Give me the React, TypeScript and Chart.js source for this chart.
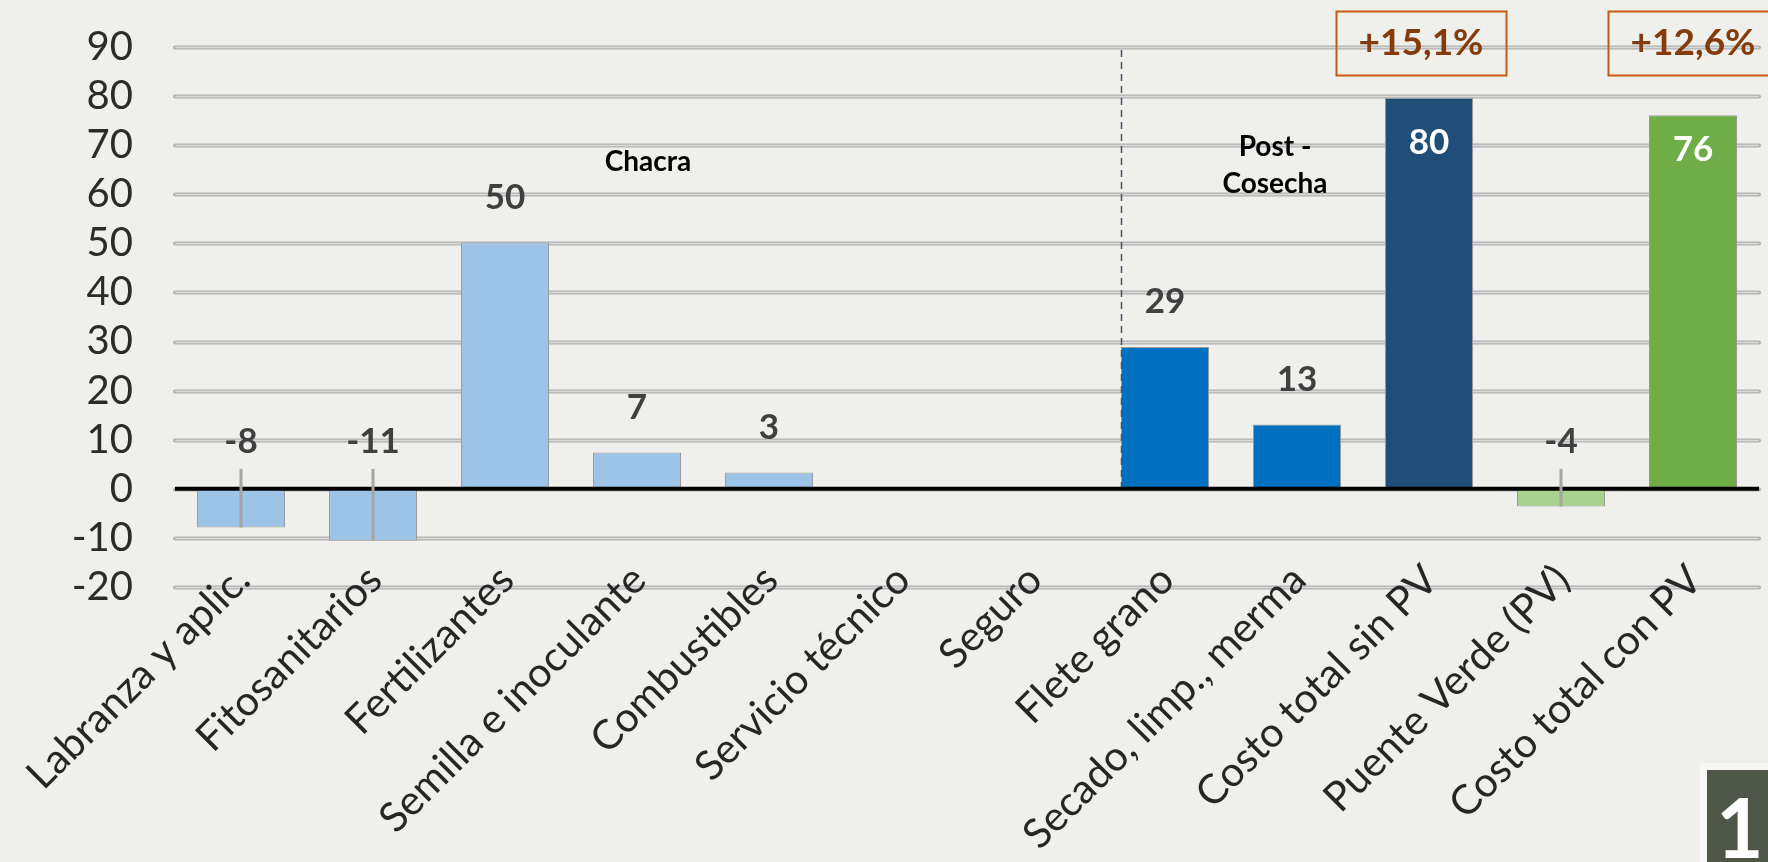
import React, { useEffect, useRef } from 'react';
import { Chart, registerables } from 'chart.js';

Chart.register(...registerables);

const categories = [
  'Labranza y aplic.',
  'Fitosanitarios',
  'Fertilizantes',
  'Semilla e inoculante',
  'Combustibles',
  'Servicio técnico',
  'Seguro',
  'Flete grano',
  'Secado, limp., merma',
  'Costo total sin PV',
  'Puente Verde (PV)',
  'Costo total con PV',
];
const values = [-7.9, -10.6, 50.2, 7.4, 3.3, 0, 0, 28.9, 13.1, 79.6, -3.6, 76.1];
const valueLabels = ['-8', '-11', '50', '7', '3', '', '', '29', '13', '80', '-4', '76'];
const insideLabelIdx = [9, 11];
const insideLabelOffset = [45, 34];
const barColors = [
  '#9DC3E6', '#9DC3E6', '#9DC3E6', '#9DC3E6', '#9DC3E6', '#9DC3E6', '#9DC3E6',
  '#0070C0', '#0070C0', '#1F4E79', '#A9D18E', '#70AD47',
];
const yMin = -20;
const yMax = 90;
const yStep = 10;
const boxTexts = ['+15,1%', '+12,6%'];
const boxCategoryIdx = [9, 11];
const boxOffsets = [-8, 0];
const sectionTexts = ['Chacra', 'Post -', 'Cosecha'];
const sectionCategory = [3, 8, 8];
const sectionValue = [66.5, 69.7, 62.1];
const dividerCategoryIdx = 7;

const BG = '#EFEFEB';
const FONT = 'Lato, "Noto Sans", sans-serif';

const overlayPlugin = {
  id: 'overlay',
  beforeDatasetsDraw(chart: any) {
    const { ctx, chartArea } = chart;
    const ys = chart.scales.y;
    const xs = chart.scales.x;
    ctx.save();
    for (let v = yMin; v <= yMax; v += yStep) {
      const y = Math.round(ys.getPixelForValue(v)) + 0.5;
      ctx.lineCap = 'round';
      ctx.strokeStyle = '#b2b2b2';
      ctx.lineWidth = 4;
      ctx.beginPath();
      ctx.moveTo(chartArea.left, y);
      ctx.lineTo(chartArea.right, y);
      ctx.stroke();
      ctx.strokeStyle = '#dadada';
      ctx.lineWidth = 1.6;
      ctx.beginPath();
      ctx.moveTo(chartArea.left + 1, y);
      ctx.lineTo(chartArea.right - 1, y);
      ctx.stroke();
    }
    ctx.fillStyle = '#262626';
    ctx.font = `41px ${FONT}`;
    ctx.textAlign = 'right';
    ctx.textBaseline = 'middle';
    categories.forEach((c, i) => {
      const x = xs.getPixelForValue(i) + 2;
      const y = chartArea.bottom - 14;
      ctx.save();
      ctx.translate(x, y);
      ctx.rotate(-Math.PI / 4);
      ctx.fillText(c, 0, 0);
      ctx.restore();
    });
    ctx.restore();
  },
  afterDatasetsDraw(chart: any) {
    const { ctx, chartArea } = chart;
    const xs = chart.scales.x;
    const ys = chart.scales.y;
    const meta = chart.getDatasetMeta(0);
    const zero = ys.getPixelForValue(0);
    ctx.save();

    const divBar = meta.data[dividerCategoryIdx];
    const dx = Math.round(divBar.x - divBar.width / 2) + 0.5;
    ctx.strokeStyle = '#44546A';
    ctx.lineWidth = 1.5;
    ctx.setLineDash([7, 5]);
    ctx.beginPath();
    ctx.moveTo(dx, ys.getPixelForValue(yMax) + 3);
    ctx.lineTo(dx, zero);
    ctx.stroke();
    ctx.setLineDash([]);

    ctx.strokeStyle = '#000';
    ctx.lineWidth = 4;
    ctx.beginPath();
    ctx.moveTo(chartArea.left, zero);
    ctx.lineTo(chartArea.right, zero);
    ctx.stroke();

    ctx.textAlign = 'center';
    ctx.textBaseline = 'middle';
    ctx.font = `bold 35px ${FONT}`;
    values.forEach((v, i) => {
      const lbl = valueLabels[i];
      if (!lbl) return;
      const bar = meta.data[i];
      const top = ys.getPixelForValue(v);
      const inside = insideLabelIdx.indexOf(i);
      if (v < 0) {
        ctx.strokeStyle = '#a5a5a5';
        ctx.lineWidth = 3;
        ctx.beginPath();
        ctx.moveTo(bar.x, zero - 20);
        ctx.lineTo(bar.x, top);
        ctx.stroke();
        ctx.fillStyle = '#404040';
        ctx.fillText(lbl, bar.x, zero - 47);
      } else if (inside >= 0) {
        ctx.fillStyle = '#ffffff';
        ctx.fillText(lbl, bar.x, top + insideLabelOffset[inside]);
      } else {
        ctx.fillStyle = '#404040';
        ctx.fillText(lbl, bar.x, top - 45);
      }
    });

    ctx.fillStyle = '#000';
    ctx.font = `bold 28px ${FONT}`;
    sectionTexts.forEach((t, i) => {
      const x = xs.getPixelForValue(sectionCategory[i]) + (i === 0 ? 11 : -22);
      ctx.fillText(t, x, ys.getPixelForValue(sectionValue[i]));
    });

    ctx.font = `bold 37px ${FONT}`;
    boxTexts.forEach((t, i) => {
      const cx = xs.getPixelForValue(boxCategoryIdx[i]) + boxOffsets[i];
      const w = 170;
      const h = 64;
      const topY = 11;
      ctx.strokeStyle = '#C55A11';
      ctx.lineWidth = 2;
      ctx.strokeRect(Math.round(cx - w / 2) + 0.5, topY + 0.5, w, h);
      ctx.fillStyle = '#843C0C';
      ctx.fillText(t, cx, topY + h / 2);
    });

    ctx.fillStyle = '#f7f7f5';
    ctx.fillRect(1700, 763, 68, 99);
    ctx.fillStyle = '#4E5747';
    ctx.fillRect(1707, 770, 61, 92);
    ctx.fillStyle = '#ffffff';
    ctx.textAlign = 'left';
    ctx.textBaseline = 'alphabetic';
    ctx.font = `bold 82px ${FONT}`;
    ctx.fillText('11', 1716, 858);

    ctx.restore();
  },
};

export default function App() {
  const ref = useRef<HTMLCanvasElement | null>(null);
  useEffect(() => {
    if (!ref.current) return;
    const chart = new Chart(ref.current, {
      type: 'bar',
      data: {
        labels: categories,
        datasets: [
          {
            data: values,
            backgroundColor: barColors,
            borderColor: '#9a9a9a',
            borderWidth: 1,
            categoryPercentage: 1,
            barPercentage: 0.667,
          },
        ],
      },
      options: {
        responsive: false,
        animation: false,
        devicePixelRatio: 1,
        layout: { padding: { top: 47, right: 9, left: 0, bottom: 0 } },
        plugins: {
          legend: { display: false },
          tooltip: { enabled: false },
        },
        scales: {
          x: {
            grid: { display: false, drawTicks: false },
            border: { display: false },
            ticks: { display: false, autoSkip: false },
            afterFit(scale: any) {
              scale.height = 275;
              scale.paddingLeft = 0;
              scale.paddingRight = 0;
            },
          },
          y: {
            min: yMin,
            max: yMax,
            grid: { display: false, drawTicks: false },
            border: { display: false },
            ticks: {
              autoSkip: false,
              stepSize: yStep,
              padding: 42,
              color: '#2b2b2b',
              font: { family: FONT, size: 40 },
            },
            afterFit(scale: any) {
              scale.width = 175;
              scale.paddingTop = 0;
              scale.paddingBottom = 0;
            },
          },
        },
      },
      plugins: [overlayPlugin],
    });
    return () => chart.destroy();
  }, []);

  return (
    <div style={{ position: 'fixed', left: 0, top: 0, width: 1768, height: 862, background: BG }}>
      <canvas ref={ref} width={1768} height={862} style={{ display: 'block' }} />
    </div>
  );
}
